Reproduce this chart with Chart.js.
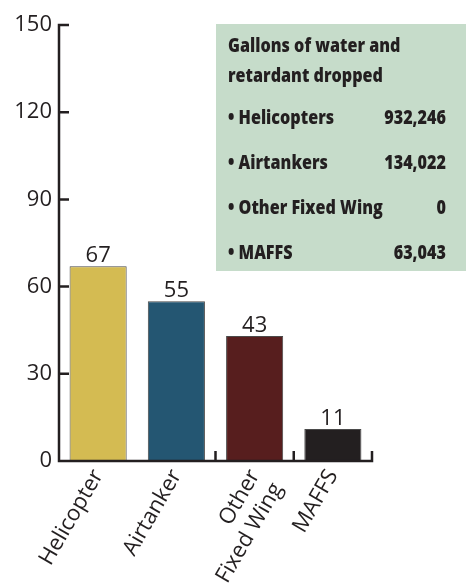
<!DOCTYPE html>
<html>
<head>
<meta charset="utf-8">
<script src="https://cdn.jsdelivr.net/npm/chart.js@4"></script>
<style>
  html, body { margin: 0; padding: 0; background: #fff; }
  #wrap { width: 466px; height: 588px; }
</style>
</head>
<body>
<div id="wrap"><canvas id="missionChart" width="466" height="588"></canvas></div>
<script>
// missions flown, by aircraft type
const categories = ['Helicopter', 'Airtanker', ['Other', 'Fixed Wing'], 'MAFFS'];
const missions = [67, 55, 43, 11];
const yMax = 150;
const yStep = 30;

// gallons dropped box
const boxTitle = ['Gallons of water and', 'retardant dropped'];
const dropTypes = ['Helicopters', 'Airtankers', 'Other Fixed Wing', 'MAFFS'];
const dropGallons = [932246, 134022, 0, 63043];

const barColors = ['#D4BB52', '#245672', '#571E1E', '#231F20'];
const ink = '#231F20';
const font = "'Open Sans', sans-serif";

Chart.defaults.font.family = font;
Chart.defaults.color = ink;

// axis lines with inward tick marks
const axisPlugin = {
    id: 'axes',
    afterDatasetsDraw(chart) {
        const { ctx, chartArea, scales: { x, y } } = chart;
        ctx.save();
        ctx.strokeStyle = ink;
        ctx.lineWidth = 2.5;
        ctx.lineCap = 'butt';
        ctx.beginPath();
        ctx.moveTo(chartArea.left, y.getPixelForValue(yMax) - 1.25);
        ctx.lineTo(chartArea.left, chartArea.bottom + 1.25);
        y.ticks.forEach(t => {
            const py = y.getPixelForValue(t.value);
            ctx.moveTo(chartArea.left, py);
            ctx.lineTo(chartArea.left + 10, py);
        });
        ctx.moveTo(chartArea.left, chartArea.bottom);
        ctx.lineTo(chartArea.right + 1.25, chartArea.bottom);
        [1.5, 2.5, 3.5].forEach(v => {
            const px = x.getPixelForValue(v);
            ctx.moveTo(px, chartArea.bottom);
            ctx.lineTo(px, chartArea.bottom - 10);
        });
        ctx.stroke();
        ctx.restore();
    }
};

// value above each bar
const valuePlugin = {
    id: 'values',
    afterDatasetsDraw(chart) {
        const { ctx } = chart;
        const meta = chart.getDatasetMeta(0);
        ctx.save();
        ctx.fillStyle = ink;
        ctx.font = '22px ' + font;
        ctx.textAlign = 'center';
        ctx.textBaseline = 'alphabetic';
        meta.data.forEach((bar, i) => {
            ctx.fillText(String(missions[i]), bar.x, bar.y - 4);
        });
        ctx.restore();
    }
};

// green box listing gallons dropped
const boxPlugin = {
    id: 'gallonsBox',
    afterDraw(chart) {
        const { ctx } = chart;
        const left = 216, top = 24, w = 250, h = 247;
        const textX = 228, numX = 446, squeeze = 0.85;
        ctx.save();
        ctx.fillStyle = '#C6DCCA';
        ctx.fillRect(left, top, w, h);
        ctx.fillStyle = ink;
        ctx.font = '800 19px ' + font;
        ctx.textBaseline = 'middle';

        const put = (txt, px, py, align) => {
            ctx.save();
            ctx.translate(px, py);
            ctx.scale(squeeze, 1);
            ctx.textAlign = align;
            ctx.fillText(txt, 0, 0);
            ctx.restore();
        };

        boxTitle.forEach((line, i) => put(line, textX, 47 + i * 30, 'left'));
        dropTypes.forEach((name, i) => {
            const py = 119 + i * 44.7;
            put('\u2022 ' + name, textX, py, 'left');
            put(dropGallons[i].toLocaleString('en-US'), numX, py, 'right');
        });
        ctx.restore();
    }
};

new Chart(document.getElementById('missionChart'), {
    type: 'bar',
    data: {
        labels: categories,
        datasets: [{
            data: missions,
            backgroundColor: barColors,
            borderColor: '#4a4a4a',
            borderWidth: 1,
            categoryPercentage: 1,
            barPercentage: 0.73
        }]
    },
    options: {
        responsive: false,
        animation: false,
        layout: { padding: { top: 25, right: 94, bottom: 0, left: 0 } },
        plugins: {
            legend: { display: false },
            tooltip: { enabled: false }
        },
        scales: {
            x: {
                grid: { display: false, drawTicks: false },
                border: { display: false },
                ticks: {
                    autoSkip: false,
                    minRotation: 60,
                    maxRotation: 60,
                    padding: 4,
                    color: ink,
                    font: { size: 22 }
                },
                afterFit(scale) { scale.height = 127; }
            },
            y: {
                min: 0,
                max: yMax,
                grid: { display: false, drawTicks: false },
                border: { display: false },
                ticks: {
                    stepSize: yStep,
                    padding: 7,
                    color: ink,
                    font: { size: 22 }
                },
                afterFit(scale) { scale.width = 59; }
            }
        }
    },
    plugins: [axisPlugin, valuePlugin, boxPlugin]
});
</script>
</body>
</html>
